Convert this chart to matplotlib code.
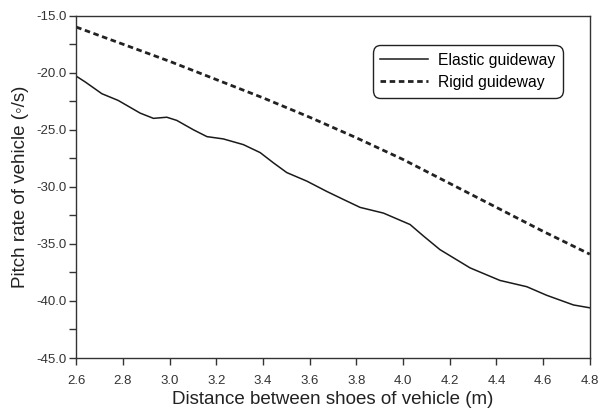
import matplotlib
matplotlib.use("Agg")
import matplotlib.pyplot as plt
from matplotlib.ticker import MultipleLocator

plt.rcParams['font.family'] = ['Liberation Sans', 'DejaVu Sans']

# Elastic guideway
x_elastic = [2.6, 2.638, 2.71, 2.78, 2.874, 2.931, 2.988, 3.031, 3.102, 3.16, 3.23,
             3.316, 3.388, 3.445, 3.502, 3.588, 3.673, 3.744, 3.816, 3.916, 4.03,
             4.087, 4.158, 4.287, 4.415, 4.53, 4.615, 4.73, 4.8]
y_elastic = [-20.3, -20.8, -21.84, -22.43, -23.54, -24.0, -23.9, -24.18, -25.0, -25.6, -25.8,
             -26.3, -27.0, -27.9, -28.75, -29.5, -30.4, -31.1, -31.8, -32.3, -33.3,
             -34.3, -35.5, -37.1, -38.2, -38.75, -39.5, -40.35, -40.6]

# Rigid guideway
x_rigid = [2.6, 2.8, 3.0, 3.2, 3.4, 3.6, 3.8, 4.0, 4.2, 4.4, 4.6, 4.8]
y_rigid = [-16.0, -17.5, -19.0, -20.6, -22.2, -23.9, -25.7, -27.6, -29.7, -31.8, -33.9, -35.9]

x_ticks = [2.6, 2.8, 3.0, 3.2, 3.4, 3.6, 3.8, 4.0, 4.2, 4.4, 4.6, 4.8]
y_ticks = [-45.0, -40.0, -35.0, -30.0, -25.0, -20.0, -15.0]

fig = plt.figure(figsize=(6.0, 4.12), dpi=100)
ax = fig.add_axes([0.127, 0.131, 0.856, 0.831])

ax.plot(x_elastic, y_elastic, color='#1a1a1a', lw=1.1, label='Elastic guideway')
ax.plot(x_rigid, y_rigid, color='#222222', lw=2.0, linestyle=(0, (2.0, 1.3)),
        label='Rigid guideway')

ax.set_xlim(2.6, 4.8)
ax.set_ylim(-45, -15)
ax.set_xticks(x_ticks)
ax.set_xticklabels([f"{v:.1f}" for v in x_ticks])
ax.set_yticks(y_ticks)
ax.set_yticklabels([f"{v:.1f}" for v in y_ticks])
ax.yaxis.set_minor_locator(MultipleLocator(2.5))

ax.tick_params(axis='both', which='major', direction='out', length=5, width=1,
               labelsize=9.5, colors='#333333', labelcolor='#333333')
ax.tick_params(axis='x', which='major', pad=7)
ax.tick_params(axis='y', which='major', pad=2)
ax.tick_params(axis='y', which='minor', direction='out', length=5, width=1, colors='#333333')
ax.tick_params(top=False, right=False)
for s in ax.spines.values():
    s.set_linewidth(1.0)
    s.set_color('#333333')

ax.set_xlabel('Distance between shoes of vehicle (m)', fontsize=13.5, color='#222222', labelpad=3)
ax.set_ylabel('Pitch rate of vehicle (\u25e6/s)', fontsize=13.5, color='#222222', labelpad=5)

leg = ax.legend(loc='upper right', bbox_to_anchor=(0.9475, 0.9144), borderaxespad=0,
                fontsize=11.3, frameon=True, fancybox=True, edgecolor='#222222',
                framealpha=1, handlelength=3.0, borderpad=0.5, labelspacing=0.45,
                handletextpad=0.65)
leg.get_frame().set_linewidth(1.0)
leg.get_frame().set_boxstyle('round,pad=0,rounding_size=0.5')

fig.savefig('out.png', dpi=100)
